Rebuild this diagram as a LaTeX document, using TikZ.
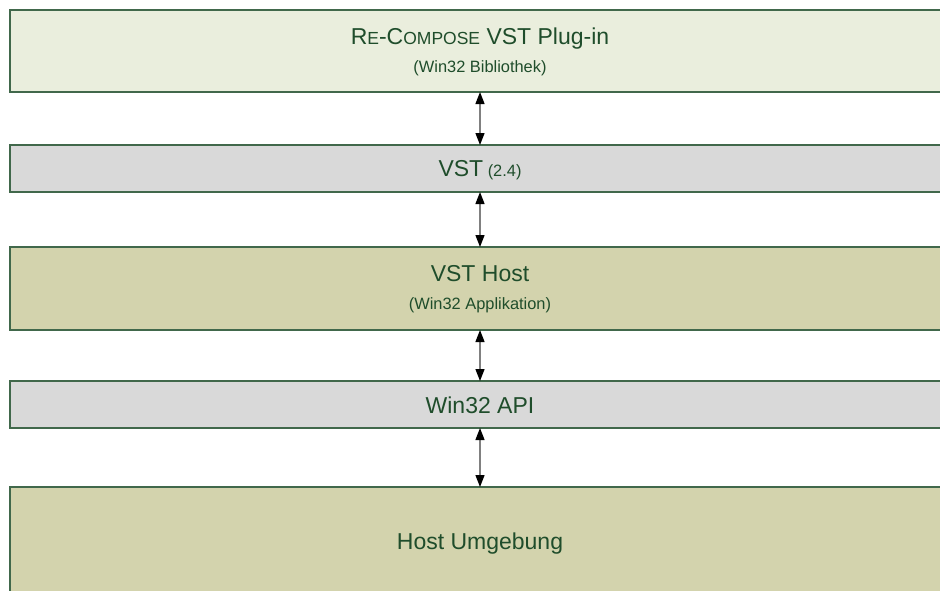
\documentclass[tikz,border=0pt]{standalone}
\usepackage{fontspec}
\setmainfont{Liberation Sans}
\usetikzlibrary{arrows.meta}
\definecolor{bordergreen}{HTML}{41684B}
\definecolor{textgreen}{HTML}{1F4D2B}
\definecolor{fillpale}{HTML}{EAEEDD}
\definecolor{fillgray}{HTML}{D9D9D9}
\definecolor{fillolive}{HTML}{D3D3AD}
\definecolor{linegray}{HTML}{808080}
\newcommand{\bigsz}{\fontsize{23}{27}\selectfont}
\newcommand{\smsz}{\fontsize{17.5}{21}\selectfont}
\newcommand{\subsz}{\fontsize{16.4}{20}\selectfont}
\tikzset{
  layerbox/.style={draw=bordergreen, line width=1.4pt, rectangle, minimum width=940pt, inner sep=0pt, outer sep=0pt},
  labeltxt/.style={text=textgreen, anchor=base, inner sep=0pt, outer sep=0pt},
  biarrow/.style={draw=linegray, line width=1.3pt, {Triangle[length=12pt,width=9pt,fill=black,color=black]}-{Triangle[length=12pt,width=9pt,fill=black,color=black]}},
}
\begin{document}
\begin{tikzpicture}[x=1pt,y=-1pt]
\useasboundingbox (0,0) rectangle (940,590);
\clip (0,0) rectangle (940,590);
\node[layerbox, fill=fillpale, minimum height=82pt] (b1) at (480,51) {};
\node[layerbox, fill=fillgray, minimum height=47pt] (b2) at (480,168.5) {};
\node[layerbox, fill=fillolive, minimum height=83pt] (b3) at (480,288.5) {};
\node[layerbox, fill=fillgray, minimum height=47pt] (b4) at (480,404.5) {};
\node[layerbox, fill=fillolive, minimum height=108pt] (b5) at (480,541) {};
\node[labeltxt] (t1) at (480,44.5) {\bigsz R{\smsz E}-C{\smsz OMPOSE} VST Plug-in};
\node[labeltxt] (s1) at (480,72) {\subsz (Win32 Bibliothek)};
\node[labeltxt] (t2) at (480,176.5) {{\bigsz VST}{\subsz\ (2.4)}};
\node[labeltxt] (t3) at (480,281.5) {\bigsz VST Host};
\node[labeltxt] (s3) at (480,309.5) {\subsz (Win32 Applikation)};
\node[labeltxt] (t4) at (480,413) {\bigsz Win32 API};
\node[labeltxt] (t5) at (480,549) {\bigsz Host Umgebung};
\draw[biarrow] (b1.south) -- (b2.north);
\draw[biarrow] (b2.south) -- (b3.north);
\draw[biarrow] (b3.south) -- (b4.north);
\draw[biarrow] (b4.south) -- (b5.north);
\end{tikzpicture}
\end{document}
